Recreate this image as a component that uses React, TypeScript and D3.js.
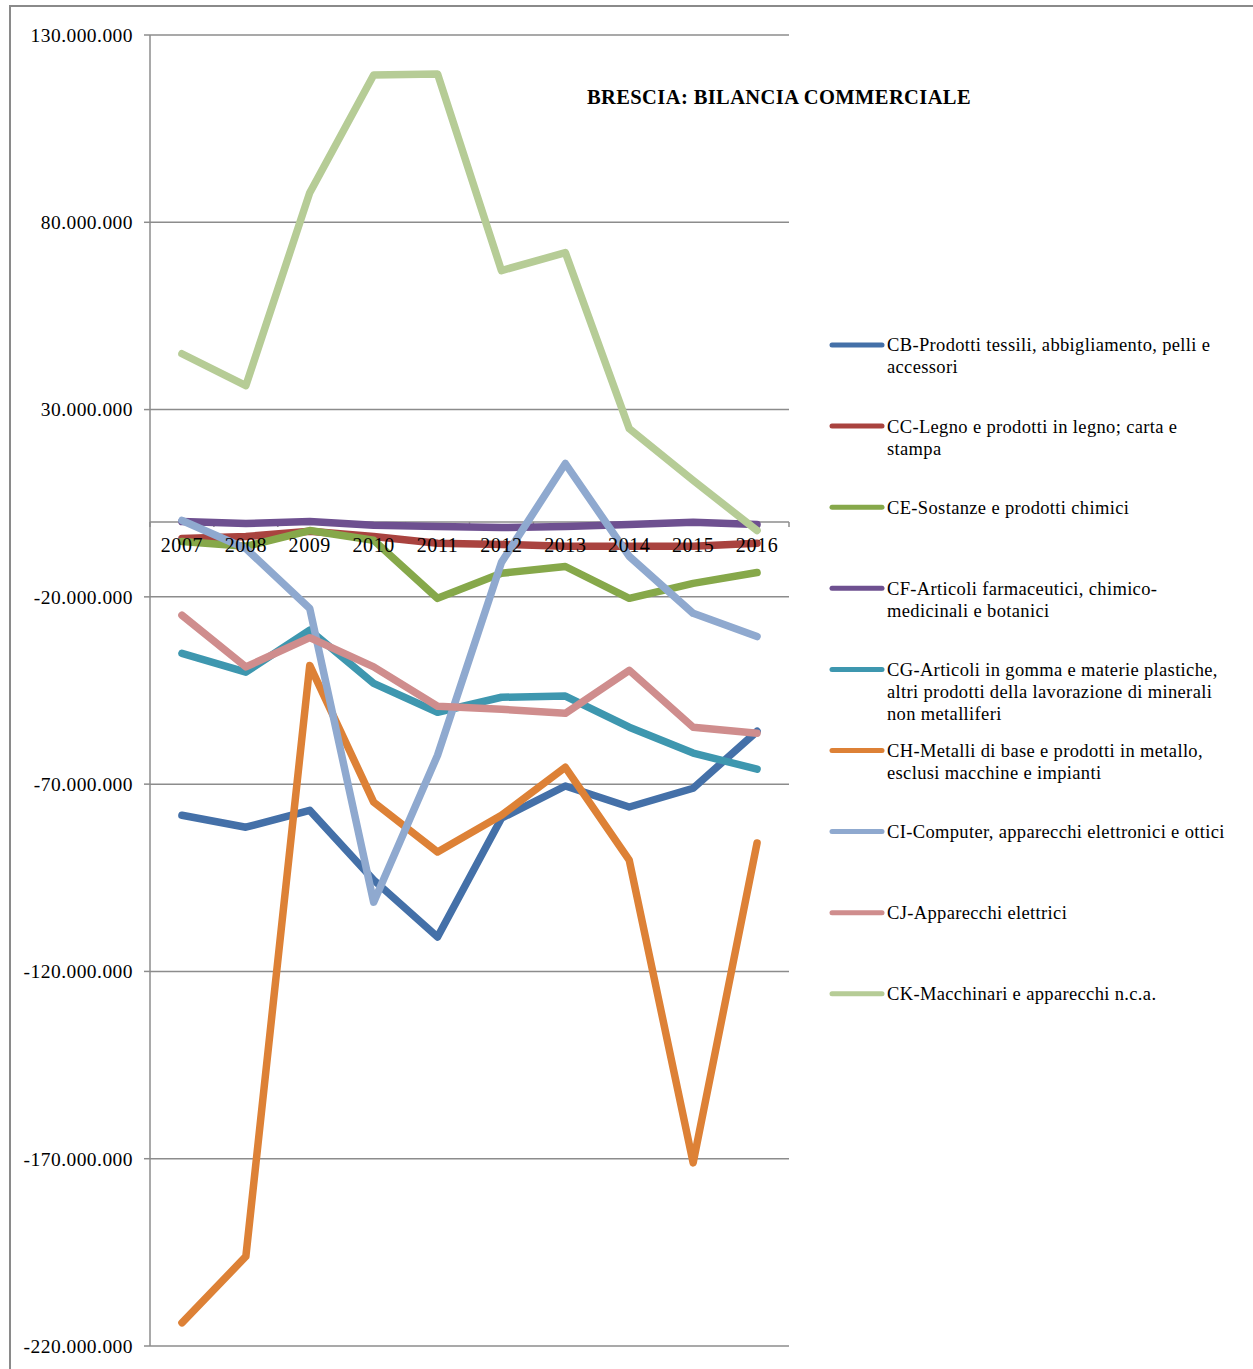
import React from "react";
import * as d3 from "d3";

const years = ["2007", "2008", "2009", "2010", "2011", "2012", "2013", "2014", "2015", "2016"];
const yTicks = [130e6, 80e6, 30e6, -20e6, -70e6, -120e6, -170e6, -220e6];

const CB = [-78.3, -81.5, -77.0, -95.6, -110.8, -79.1, -70.5, -76.1, -71.1, -55.9];
const CC = [-4.4, -3.9, -2.5, -3.9, -5.7, -6.0, -6.5, -6.5, -6.5, -5.7];
const CE = [-5.2, -6.5, -2.3, -4.9, -20.4, -13.7, -11.9, -20.4, -16.4, -13.5];
const CF = [0.1, -0.4, 0.1, -0.9, -1.2, -1.5, -1.2, -0.7, -0.1, -0.7];
const CG = [-35.1, -40.1, -28.9, -43.1, -50.8, -46.8, -46.5, -54.8, -61.7, -66.0];
const CH = [-213.8, -196.1, -38.3, -74.8, -88.1, -78.3, -65.5, -90.3, -171.1, -85.7];
const CI = [0.4, -7.1, -23.1, -101.5, -62.3, -10.8, 15.6, -9.2, -24.4, -30.6];
const CJ = [-24.9, -38.7, -30.9, -38.7, -49.2, -50.0, -51.1, -39.6, -54.8, -56.4];
const CK = [44.9, 36.4, 87.9, 119.3, 119.6, 67.1, 71.9, 24.9, 11.1, -2.3];

const seriesNames = [
  ["CB-Prodotti tessili, abbigliamento, pelli e", "accessori"],
  ["CC-Legno e prodotti in legno; carta e", "stampa"],
  ["CE-Sostanze e prodotti chimici"],
  ["CF-Articoli farmaceutici, chimico-", "medicinali e botanici"],
  ["CG-Articoli in gomma e materie plastiche,", "altri prodotti della lavorazione di minerali", "non metalliferi"],
  ["CH-Metalli di base e prodotti in metallo,", "esclusi macchine e impianti"],
  ["CI-Computer, apparecchi elettronici e ottici"],
  ["CJ-Apparecchi elettrici"],
  ["CK-Macchinari e apparecchi n.c.a."],
];
const seriesValues = [CB, CC, CE, CF, CG, CH, CI, CJ, CK];
const seriesColors = ["#4470A8", "#A9433F", "#86A84A", "#6E5090", "#3E97AF", "#DD8136", "#8FA9CF", "#CF8D8D", "#B6CC96"];

const FONT = "'Liberation Serif', 'Times New Roman', serif";

export default function App() {
  const left = 150, right = 789, top = 35, bottom = 1346;
  const x = d3.scaleBand<string>().domain(years).range([left, right]);
  const y = d3.scaleLinear().domain([-220e6, 130e6]).range([bottom, top]);
  const cx = (yr: string) => (x(yr) as number) + x.bandwidth() / 2;
  const line = d3
    .line<number>()
    .x((_, i) => cx(years[i]))
    .y((v) => y(v * 1e6));
  const fmt = (v: number) => {
    const s = d3.format(",")(v).replace(/,/g, ".");
    return s.replace("−", "-");
  };
  const zeroY = y(0);
  const legendX = 830;
  const legendY0 = 345;
  const legendStep = 81.1;
  const lineH = 22;

  return (
    <svg width={1253} height={1369} style={{ position: "absolute", left: 0, top: 0, background: "#fff" }}>
      <rect x={10} y={6} width={1300} height={1400} fill="#fff" stroke="#8a8a8a" strokeWidth={2} />
      {yTicks.map((t) => (
        <g key={t}>
          <line x1={left} x2={right} y1={y(t)} y2={y(t)} stroke="#8c8c8c" strokeWidth={1.5} />
          <line x1={left - 6} x2={left} y1={y(t)} y2={y(t)} stroke="#8c8c8c" strokeWidth={1.5} />
          <text x={133} y={y(t)} dy="0.35em" textAnchor="end" fontFamily={FONT} fontSize={19.5} letterSpacing={0.45} fill="#000">
            {fmt(t)}
          </text>
        </g>
      ))}
      <line x1={left} x2={left} y1={top} y2={bottom} stroke="#8c8c8c" strokeWidth={1.5} />
      <line x1={left} x2={right} y1={zeroY} y2={zeroY} stroke="#8c8c8c" strokeWidth={1.5} />
      {years.concat(["end"]).map((yr, i) => {
        const xx = left + i * x.bandwidth();
        return <line key={yr} x1={xx} x2={xx} y1={zeroY} y2={zeroY + 5} stroke="#8c8c8c" strokeWidth={1.5} />;
      })}
      {seriesValues.map((vals, i) => (
        <path
          key={i}
          d={line(vals) || ""}
          fill="none"
          stroke={seriesColors[i]}
          strokeWidth={7.5}
          strokeLinejoin="round"
          strokeLinecap="round"
        />
      ))}
      {years.map((yr) => (
        <text key={yr} x={cx(yr)} y={552} textAnchor="middle" fontFamily={FONT} fontSize={20} letterSpacing={0.6} fill="#000">
          {yr}
        </text>
      ))}
      <text x={779} y={104} textAnchor="middle" fontFamily={FONT} fontWeight="bold" fontSize={20.5} letterSpacing={0.4} fill="#000">
        BRESCIA: BILANCIA COMMERCIALE
      </text>
      {seriesNames.map((lines, i) => {
        const ly = legendY0 + i * legendStep;
        return (
          <g key={i}>
            <line x1={legendX + 2} x2={legendX + 52} y1={ly} y2={ly} stroke={seriesColors[i]} strokeWidth={5} strokeLinecap="round" />
            {lines.map((t, j) => (
              <text key={j} x={887} y={ly + j * lineH} dy="0.35em" fontFamily={FONT} fontSize={18.5} letterSpacing={0.35} fill="#000">
                {t}
              </text>
            ))}
          </g>
        );
      })}
    </svg>
  );
}
